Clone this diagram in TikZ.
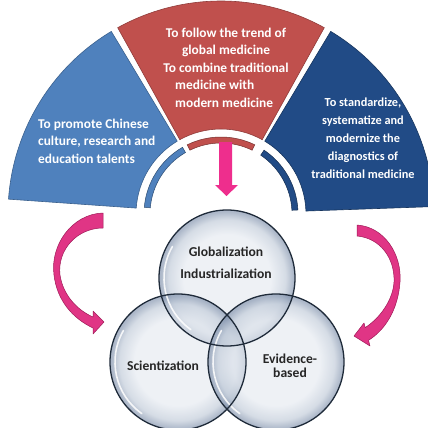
\documentclass[tikz,border=0pt]{standalone}
\usepackage{fontspec}
\setmainfont{Carlito}
\definecolor{segblue}{HTML}{4F81BD}
\definecolor{segred}{HTML}{C0504D}
\definecolor{segdark}{HTML}{214B86}
\definecolor{pinkA}{HTML}{EE2E8D}
\definecolor{pinkB}{HTML}{E03585}
\definecolor{pinkE}{HTML}{9E1A57}
\definecolor{vA}{HTML}{E4E9F0}
\definecolor{vB}{HTML}{BCC7D6}
\definecolor{vC}{HTML}{7A8CA8}
\definecolor{vline}{HTML}{1F2B3A}
\pgfdeclareradialshading{glass}{\pgfpoint{0bp}{0bp}}{color(0bp)=(vA); color(16bp)=(vA); color(21.5bp)=(vB); color(24.5bp)=(vC); color(25bp)=(vC); color(50bp)=(vC)}
\tikzset{
  segtext/.style={text=white, font=\bfseries\fontsize{13.4}{17.5}\selectfont, inner sep=0pt},
  darktext/.style={text=white, font=\bfseries\fontsize{12.3}{18}\selectfont, inner sep=0pt, align=center},
  venntext/.style={text=black!85, font=\bfseries\fontsize{13.6}{22}\selectfont, inner sep=0pt, align=center},
  glassfill/.style={shading=glass, fill opacity=0.62},
  glassline/.style={draw=vline, line width=1.3pt},
  curvearrow/.style={fill=pinkB, draw=pinkE, line width=0.5pt, line join=round},
}
\begin{document}
\begin{tikzpicture}[x=1pt,y=-1pt]
\useasboundingbox (0,0) rectangle (428,428);
\fill[white] (0,0) rectangle (428,428);
% annular segments
\begin{scope}[shift={(221,214)},yscale=-1]
  \fill[segblue, draw=segblue!75!black, line width=0.6pt] (121:213) arc[start angle=121,end angle=176,radius=213] -- (176:85) arc[start angle=176,end angle=121,radius=85] -- cycle;
  \fill[segred, draw=segred!75!black, line width=0.6pt] (61:213) arc[start angle=61,end angle=119,radius=213] -- (119:85) arc[start angle=119,end angle=61,radius=85] -- cycle;
  \fill[segdark, draw=segdark!70!black, line width=0.6pt] (2:213) arc[start angle=2,end angle=59,radius=213] -- (59:85) arc[start angle=59,end angle=2,radius=85] -- cycle;
  % thin inner bands
  \fill[segblue, draw=segblue!60!black, line width=0.5pt] (120:77) arc[start angle=120,end angle=175,radius=77] -- (175:71) arc[start angle=175,end angle=120,radius=71] -- cycle;
  \fill[segred, draw=segred!60!black, line width=0.5pt] (64:77) arc[start angle=64,end angle=116,radius=77] -- (116:71) arc[start angle=116,end angle=64,radius=71] -- cycle;
  \fill[segdark, draw=segdark!60!black, line width=0.5pt] (3:77) arc[start angle=3,end angle=56,radius=77] -- (56:71) arc[start angle=56,end angle=3,radius=71] -- cycle;
\end{scope}
% segment texts
\node[segtext, anchor=west, align=left] (tblue) at (38,141) {To promote Chinese\\culture, research and\\education talents};
\node[segtext, anchor=center, align=center] (tred1) at (226,50) {To follow the trend of\\global medicine\\To combine traditional};
\node[segtext, anchor=west, align=left] (tred2) at (175,94) {medicine with\\modern medicine};
\node[darktext] (tdark) at (363,138) {To standardize,\\systematize and\\modernize the\\diagnostics of\\traditional medicine};
% down arrow
\fill[pinkA] (219,142) -- (232,142) -- (232,185) -- (238,185) -- (226.5,196) -- (215,185) -- (219,185) -- cycle;
% curved arrows
\fill[curvearrow] (103,213) .. controls (72,214) and (50,245) .. (54,275) .. controls (57,300) and (72,318) .. (93,328) -- (93,334) -- (104,322) -- (93,311) -- (93,317) .. controls (77,310) and (63,295) .. (60,275) .. controls (57,250) and (77,228) .. (103,228) -- cycle;
\fill[curvearrow] (357,225) .. controls (385,227) and (402,255) .. (400,282) .. controls (398,310) and (385,330) .. (368.5,340.3) -- (370,346) -- (354,336) -- (364,323) -- (365.2,327.6) .. controls (380,318) and (393,300) .. (394,282) .. controls (395,258) and (380,238) .. (357,236) -- cycle;
% venn circles
\coordinate (cg) at (227,278);
\coordinate (cs) at (178,362);
\coordinate (ce) at (276,362);
\shade[glassfill] (cg) circle[radius=68];
\shade[glassfill] (cs) circle[radius=68];
\shade[glassfill] (ce) circle[radius=68];
\foreach \c in {cg,cs,ce}{
  \draw[white, line width=1.6pt, opacity=0.85, line cap=round] ([shift={(\c)}]-150:63) arc[start angle=-150, end angle=-235, radius=63];
}
\draw[glassline] (cg) circle[radius=68];
\draw[glassline] (cs) circle[radius=68];
\draw[glassline] (ce) circle[radius=68];
\node[venntext] (tg) at (226,263) {Globalization\\Industrialization};
\node[venntext] (ts) at (163,366) {Scientization};
\node[venntext, font=\bfseries\fontsize{13.6}{14.5}\selectfont] (te) at (290,366) {Evidence-\\based};
\end{tikzpicture}
\end{document}
